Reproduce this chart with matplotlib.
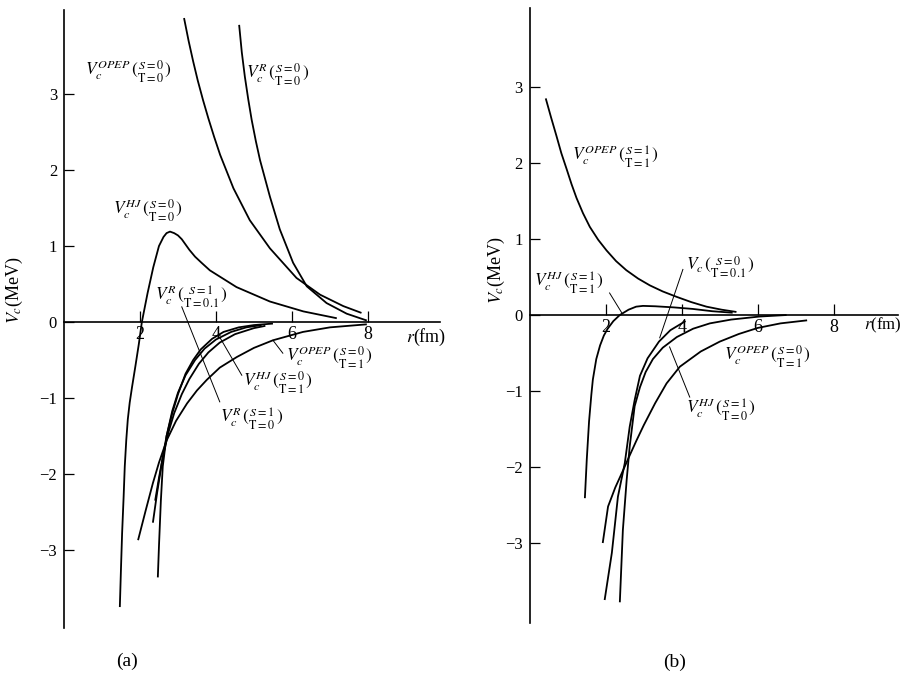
import matplotlib
matplotlib.use("Agg")
import matplotlib.pyplot as plt

plt.rcParams['font.family'] = ['Liberation Serif', 'DejaVu Serif']
plt.rcParams['mathtext.fontset'] = 'stix'

# ---- panel (a) curves: r (fm), Vc (MeV) ----
a_opep_00_r = [3.16, 3.28, 3.40, 3.52, 3.66, 3.80, 3.95, 4.11, 4.46, 4.89, 5.42, 6.12,
               6.74, 7.35, 7.83]
a_opep_00_v = [4.0, 3.7, 3.43, 3.18, 2.92, 2.68, 2.44, 2.2, 1.76, 1.34, 0.97, 0.58,
               0.36, 0.21, 0.12]

a_r_00_r = [4.61, 4.68, 4.76, 4.85, 4.94, 5.05, 5.16, 5.42, 5.68, 6.03, 6.39, 6.91,
            7.44, 7.97]
a_r_00_v = [3.91, 3.55, 3.23, 2.93, 2.66, 2.38, 2.13, 1.65, 1.22, 0.78, 0.47, 0.25,
            0.11, 0.02]

a_hj_00_r = [1.47, 1.50, 1.53, 1.57, 1.60, 1.64, 1.68, 1.73, 1.79, 1.88, 1.97, 2.05,
             2.2, 2.35, 2.5, 2.62, 2.7, 2.79, 2.9, 3.0, 3.1, 3.2, 3.3, 3.45, 3.62,
             3.84, 4.54, 5.42, 6.3, 7.18]
a_hj_00_v = [-3.75, -3.25, -2.78, -2.3, -1.9, -1.55, -1.28, -1.06, -0.86, -0.58, -0.29,
             0.0, 0.38, 0.72, 1.0, 1.12, 1.17, 1.19, 1.17, 1.14, 1.09, 1.02, 0.95, 0.86,
             0.78, 0.68, 0.46, 0.27, 0.14, 0.05]

a_opep_01_r = [1.95, 2.15, 2.34, 2.5, 2.7, 2.95, 3.24, 3.5, 3.76, 4.1, 4.55, 5.0,
               5.5, 6.29, 7.0, 7.97]
a_opep_01_v = [-2.87, -2.48, -2.12, -1.85, -1.56, -1.3, -1.07, -0.9, -0.76, -0.6,
               -0.46, -0.34, -0.24, -0.13, -0.07, -0.03]

a_r_101_r = [2.4, 2.5, 2.6, 2.7, 2.85, 3.0, 3.2, 3.4, 3.6, 3.9, 4.2, 4.6, 5.0, 5.5]
a_r_101_v = [-2.35, -2.05, -1.78, -1.5, -1.2, -0.95, -0.68, -0.5, -0.36, -0.22,
             -0.13, -0.07, -0.04, -0.02]

a_hj_01_r = [2.34, 2.45, 2.6, 2.75, 2.9, 3.1, 3.3, 3.55, 3.8, 4.1, 4.5, 5.0, 5.3]
a_hj_01_v = [-2.64, -2.25, -1.78, -1.45, -1.2, -0.95, -0.75, -0.55, -0.4, -0.27,
             -0.16, -0.08, -0.05]

a_r_10_r = [2.47, 2.5, 2.55, 2.6, 2.7, 2.85, 3.0, 3.2, 3.45, 3.7, 4.0, 4.4, 4.8, 5.2]
a_r_10_v = [-3.36, -2.95, -2.35, -1.9, -1.5, -1.17, -0.93, -0.7, -0.5, -0.35, -0.23,
            -0.13, -0.07, -0.04]

# ---- panel (b) curves ----
b_opep_11_r = [0.42, 0.56, 0.70, 0.83, 0.97, 1.1, 1.23, 1.4, 1.58, 1.8, 2.02, 2.27,
               2.54, 2.85, 3.16, 3.5, 3.86, 4.25, 4.65, 5.05, 5.44]
b_opep_11_v = [2.85, 2.6, 2.36, 2.13, 1.92, 1.72, 1.54, 1.34, 1.16, 0.99, 0.85, 0.71,
               0.59, 0.48, 0.39, 0.31, 0.24, 0.17, 0.11, 0.07, 0.04]

b_hj_11_r = [1.45, 1.5, 1.56, 1.62, 1.66, 1.75, 1.85, 1.95, 2.05, 2.2, 2.37, 2.6,
             2.8, 2.98, 3.3, 3.8, 4.29, 4.8, 5.34]
b_hj_11_v = [-2.41, -1.9, -1.4, -1.05, -0.85, -0.58, -0.4, -0.27, -0.18, -0.08, 0.0,
             0.07, 0.11, 0.12, 0.115, 0.1, 0.08, 0.05, 0.03]

b_opep_01_r = [1.92, 2.06, 2.25, 2.45, 2.6, 2.8, 3.0, 3.3, 3.6, 3.95, 4.5, 5.0, 5.5,
               6.0, 6.6, 7.3]
b_opep_01_v = [-3.0, -2.52, -2.27, -2.05, -1.88, -1.66, -1.45, -1.16, -0.9, -0.68,
               -0.48, -0.35, -0.25, -0.17, -0.11, -0.07]

b_v_001_r = [1.97, 2.16, 2.32, 2.5, 2.63, 2.76, 2.9, 3.1, 3.4, 3.7, 4.1]
b_v_001_v = [-3.75, -3.13, -2.39, -1.95, -1.47, -1.12, -0.8, -0.57, -0.35, -0.2, -0.08]

b_hj_10_r = [2.37, 2.45, 2.55, 2.63, 2.76, 2.9, 3.05, 3.24, 3.5, 3.87, 4.3, 4.74,
             5.3, 6.05, 6.76]
b_hj_10_v = [-3.78, -2.83, -2.17, -1.73, -1.2, -0.95, -0.75, -0.58, -0.43, -0.29,
             -0.18, -0.11, -0.06, -0.02, 0.0]

x_ticks = [2, 4, 6, 8]
y_ticks = [-3, -2, -1, 0, 1, 2, 3]


def label(sup, s, t):
    if sup:
        return r'$V_c^{%s}\,(\genfrac{}{}{0}{}{S=%s}{\mathrm{T}=%s})$' % (sup, s, t)
    return r'$V_c\,(\genfrac{}{}{0}{}{S=%s}{\mathrm{T}=%s})$' % (s, t)


def style_axes(ax, xmax, ymin, ymax):
    ax.set_xlim(0, xmax)
    ax.set_ylim(ymin, ymax)
    ax.patch.set_alpha(0)
    for side in ['top', 'right']:
        ax.spines[side].set_visible(False)
    ax.spines['bottom'].set_position(('data', 0))
    ax.spines['left'].set_linewidth(1.2)
    ax.spines['bottom'].set_linewidth(1.2)
    ax.set_xticks(x_ticks)
    ax.set_yticks(y_ticks)
    ax.set_yticklabels([str(v).replace('-', '\u2212') for v in y_ticks])
    ax.tick_params(axis='x', direction='in', length=8, width=0.9, pad=3, labelsize=13)
    ax.tick_params(axis='y', direction='in', length=7, width=0.9, pad=5, labelsize=12)


fig = plt.figure(figsize=(9.01, 6.82), dpi=100)
ax1 = fig.add_axes([0.071, 0.0787, 0.4175, 0.906])
ax2 = fig.add_axes([0.588, 0.0868, 0.409, 0.9015])

lw = 1.3
kw = dict(color='black', lw=lw, solid_capstyle='butt', solid_joinstyle='round')

# panel (a)
for r, v in [(a_opep_00_r, a_opep_00_v), (a_r_00_r, a_r_00_v), (a_hj_00_r, a_hj_00_v),
             (a_opep_01_r, a_opep_01_v), (a_r_101_r, a_r_101_v),
             (a_hj_01_r, a_hj_01_v), (a_r_10_r, a_r_10_v)]:
    ax1.plot(r, v, **kw)
style_axes(ax1, 9.9, -4.03, 4.1)

fs = 12.5
ax1.text(0.55, 3.3, label('OPEP', 0, 0), fontsize=fs, va='center')
ax1.text(4.8, 3.26, label('R', 0, 0), fontsize=fs, va='center')
ax1.text(1.3, 1.47, label('HJ', 0, 0), fontsize=fs, va='center')
ax1.text(2.4, 0.33, label('R', 1, '0.1'), fontsize=fs, va='center')
ax1.text(5.85, -0.47, label('OPEP', 0, 1), fontsize=fs, va='center')
ax1.text(4.7, -0.8, label('HJ', 0, 1), fontsize=fs, va='center')
ax1.text(4.1, -1.27, label('R', 1, 0), fontsize=fs, va='center')
# leader lines
ax1.plot([3.1, 4.1], [0.2, -1.05], color='black', lw=0.7)
ax1.plot([4.1, 4.68], [-0.2, -0.7], color='black', lw=0.7)
ax1.plot([5.5, 5.76], [-0.24, -0.41], color='black', lw=0.7)
ax1.text(9.0, -0.2, r'$r$(fm)', fontsize=13, va='center', clip_on=False)
ax1.text(-1.3, 0.42, r'$V_c$(MeV)', fontsize=13, rotation=90,
         ha='center', va='center', clip_on=False)
ax1.text(1.66, -4.47, '(a)', fontsize=14, ha='center', va='center', clip_on=False)

# panel (b)
for r, v in [(b_opep_11_r, b_opep_11_v), (b_hj_11_r, b_hj_11_v),
             (b_opep_01_r, b_opep_01_v), (b_v_001_r, b_v_001_v),
             (b_hj_10_r, b_hj_10_v)]:
    ax2.plot(r, v, **kw)
style_axes(ax2, 9.7, -4.05, 4.04)

ax2.text(1.1, 2.08, label('OPEP', 1, 1), fontsize=fs, va='center')
ax2.text(0.1, 0.42, label('HJ', 1, 1), fontsize=fs, va='center')
ax2.text(4.1, 0.62, label(None, 0, '0.1'), fontsize=fs, va='center')
ax2.text(5.1, -0.55, label('OPEP', 0, 1), fontsize=fs, va='center')
ax2.text(4.1, -1.25, label('HJ', 1, 0), fontsize=fs, va='center')
ax2.plot([2.1, 2.42], [0.29, 0.03], color='black', lw=0.7)
ax2.plot([4.03, 3.42], [0.6, -0.3], color='black', lw=0.7)
ax2.plot([3.68, 4.21], [-0.42, -1.08], color='black', lw=0.7)
ax2.text(8.8, -0.13, r'$r$(fm)', fontsize=12, va='center', clip_on=False)
ax2.text(-0.87, 0.59, r'$V_c$(MeV)', fontsize=13, rotation=90,
         ha='center', va='center', clip_on=False)
ax2.text(3.82, -4.57, '(b)', fontsize=14, ha='center', va='center', clip_on=False)

fig.savefig('out.png', dpi=100)
